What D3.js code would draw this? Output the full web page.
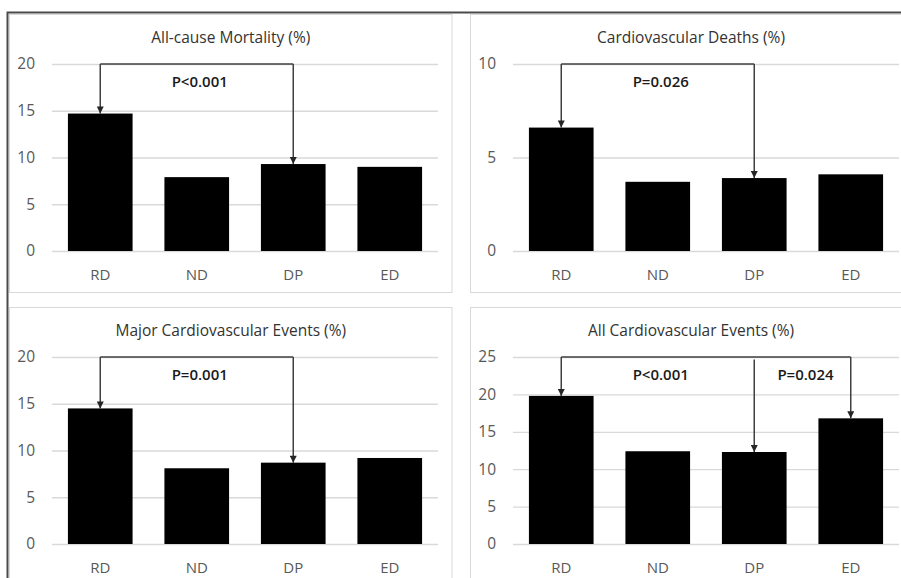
<!DOCTYPE html>
<html>
<head>
<meta charset="utf-8">
<script src="https://cdn.jsdelivr.net/npm/d3@7"></script>
<style>
  html, body { margin: 0; padding: 0; background: #ffffff; }
  svg { display: block; }
  text { font-family: "Open Sans", Lato, sans-serif; }
</style>
</head>
<body>
<svg id="chart" width="901" height="578"></svg>
<script>
// Event rates (%) by group
const categories = ["RD", "ND", "DP", "ED"];
const titles = [
  "All-cause Mortality (%)",
  "Cardiovascular Deaths (%)",
  "Major Cardiovascular Events (%)",
  "All Cardiovascular Events (%)"
];
const allCauseMortality = [14.7, 7.9, 9.3, 9.0];
const cardiovascularDeaths = [6.6, 3.7, 3.9, 4.1];
const majorCardiovascularEvents = [14.5, 8.1, 8.7, 9.2];
const allCardiovascularEvents = [19.8, 12.4, 12.3, 16.8];

// Y-axis ticks for each panel
const ticksAllCause = [0, 5, 10, 15, 20];
const ticksCvDeaths = [0, 5, 10];
const ticksMajorCv = [0, 5, 10, 15, 20];
const ticksAllCv = [0, 5, 10, 15, 20, 25];

// Groups compared and the p-values printed between them
const arrowsAllCause = ["RD", "DP"];
const arrowsCvDeaths = ["RD", "DP"];
const arrowsMajorCv = ["RD", "DP"];
const arrowsAllCv = ["RD", "DP", "ED"];
const pAllCause = ["P<0.001"];
const pCvDeaths = ["P=0.026"];
const pMajorCv = ["P=0.001"];
const pAllCv = ["P<0.001", "P=0.024"];

const panels = [
  { title: titles[0], values: allCauseMortality, ticks: ticksAllCause, arrows: arrowsAllCause, pvals: pAllCause },
  { title: titles[1], values: cardiovascularDeaths, ticks: ticksCvDeaths, arrows: arrowsCvDeaths, pvals: pCvDeaths },
  { title: titles[2], values: majorCardiovascularEvents, ticks: ticksMajorCv, arrows: arrowsMajorCv, pvals: pMajorCv },
  { title: titles[3], values: allCardiovascularEvents, ticks: ticksAllCv, arrows: arrowsAllCv, pvals: pAllCv }
];

const svg = d3.select("#chart");

// Panel boxes (2 x 2 grid)
const boxes = [
  { x: 9.5, y: 14.5, w: 442.5, h: 278 },
  { x: 470.5, y: 14.5, w: 441, h: 278 },
  { x: 9.5, y: 307.5, w: 442.5, h: 290 },
  { x: 470.5, y: 307.5, w: 441, h: 290 }
];

const defs = svg.append("defs");
defs.append("marker")
  .attr("id", "arrowhead")
  .attr("viewBox", "0 0 10 10")
  .attr("refX", 10).attr("refY", 5)
  .attr("markerUnits", "userSpaceOnUse")
  .attr("markerWidth", 8).attr("markerHeight", 7)
  .attr("orient", "auto")
  .append("path")
  .attr("d", "M0,0 L10,5 L0,10 Z")
  .attr("fill", "#262626");

panels.forEach((p, i) => {
  const b = boxes[i];
  const g = svg.append("g");

  g.append("rect")
    .attr("x", b.x).attr("y", b.y)
    .attr("width", b.w).attr("height", b.h)
    .attr("fill", "#ffffff")
    .attr("stroke", "#d9d9d9")
    .attr("stroke-width", 1);

  const left = b.x + 42.5;
  const right = left + 386;
  const top = b.y + 49.5;
  const bottom = b.y + 236.5;

  const x = d3.scaleBand()
    .domain(categories)
    .range([left, right])
    .paddingInner(0.33)
    .paddingOuter(0.165);

  const yMax = d3.max(p.ticks);
  const y = d3.scaleLinear().domain([0, yMax]).range([bottom, top]);

  // Title, centred on the panel box
  g.append("text")
    .attr("x", b.x + b.w / 2)
    .attr("y", b.y + 28)
    .attr("text-anchor", "middle")
    .attr("font-size", 15.5)
    .attr("font-weight", 500)
    .attr("fill", "#333333")
    .text(p.title);

  // Gridlines + y labels via axis
  const yAxis = d3.axisLeft(y)
    .tickValues(p.ticks)
    .tickSize(-(right - left))
    .tickPadding(17)
    .tickFormat(d3.format("d"));

  const ya = g.append("g")
    .attr("transform", `translate(${left},0)`)
    .call(yAxis);
  ya.select(".domain").remove();
  ya.selectAll(".tick line").attr("stroke", "#d9d9d9").attr("stroke-width", 1.3);
  ya.selectAll(".tick text")
    .attr("font-size", 15.5)
    .attr("fill", "#595959")
    .attr("font-family", "'Open Sans', Lato, sans-serif");

  // Bars
  g.selectAll("rect.bar")
    .data(categories)
    .join("rect")
    .attr("class", "bar")
    .attr("x", c => x(c))
    .attr("width", x.bandwidth())
    .attr("y", (c, k) => y(p.values[k]))
    .attr("height", (c, k) => y(0) - y(p.values[k]))
    .attr("fill", "#000000");

  // X labels via axis
  const xa = g.append("g")
    .attr("transform", `translate(0,${bottom})`)
    .call(d3.axisBottom(x).tickSize(0).tickPadding(18));
  xa.select(".domain").remove();
  xa.selectAll(".tick text")
    .attr("font-size", 15)
    .attr("fill", "#595959")
    .attr("font-family", "'Open Sans', Lato, sans-serif");

  // Comparison bracket: horizontal line at the top of the axis, arrows down to bars
  const cx = c => x(c) + x.bandwidth() / 2;
  const lineY = y(yMax);
  const xs = p.arrows.map(cx);
  g.append("line")
    .attr("x1", d3.min(xs)).attr("x2", d3.max(xs))
    .attr("y1", lineY).attr("y2", lineY)
    .attr("stroke", "#404040").attr("stroke-width", 1.5);

  p.arrows.forEach((c, k) => {
    const v = p.values[categories.indexOf(c)];
    const inner = k > 0 && k < p.arrows.length - 1;
    g.append("line")
      .attr("x1", cx(c)).attr("x2", cx(c))
      .attr("y1", inner ? lineY + 2.5 : lineY)
      .attr("y2", y(v))
      .attr("stroke", "#404040").attr("stroke-width", 1.5)
      .attr("marker-end", "url(#arrowhead)");
  });

  p.pvals.forEach((t, k) => {
    const mid = (cx(p.arrows[k]) + cx(p.arrows[k + 1])) / 2;
    g.append("text")
      .attr("x", mid + 3)
      .attr("y", lineY + 23)
      .attr("text-anchor", "middle")
      .attr("font-size", 15)
      .attr("font-weight", 600)
      .attr("fill", "#1a1a1a")
      .text(t);
  });
});

// Outer frame edges
svg.append("path")
  .attr("d", "M7.5,578 L7.5,12.5 L901,12.5")
  .attr("fill", "none")
  .attr("stroke", "#4a4a4a")
  .attr("stroke-width", 2);
</script>
</body>
</html>
